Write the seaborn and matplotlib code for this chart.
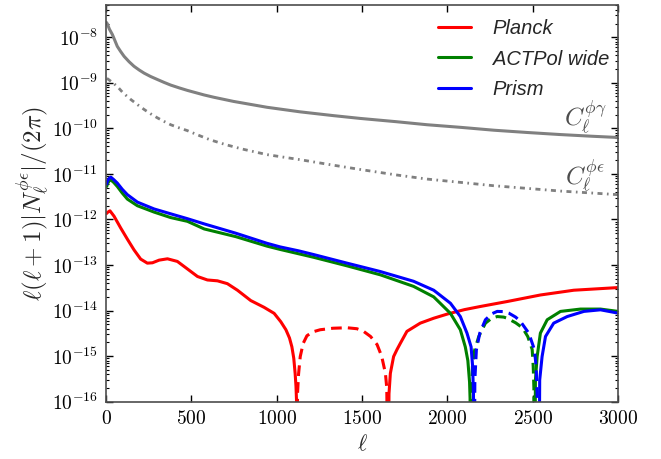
import numpy as np
import pandas as pd
import matplotlib
matplotlib.use("Agg")
import matplotlib.pyplot as plt
import matplotlib.ticker as mticker
from matplotlib.font_manager import FontProperties
import seaborn as sns

# ---------------- data ----------------
# C_ell^{phi gamma} (solid gray)
cpg_ell = [3, 8, 20, 37, 50, 66, 85, 106, 135, 164, 195, 223, 260, 301, 340, 379, 430, 477, 575,
           633, 747, 943, 1138, 1333, 1490, 1700, 1881, 2080, 2272, 2470, 2663, 2850, 3000]
cpg_val = [2.1e-8, 1.95e-8, 1.5e-8, 1.15e-8, 8.8e-9, 6.3e-9, 4.9e-9, 3.8e-9, 2.9e-9, 2.3e-9,
           1.9e-9, 1.63e-9, 1.38e-9, 1.18e-9, 1.02e-9, 8.9e-10, 7.7e-10, 6.8e-10, 5.4e-10,
           4.8e-10, 3.9e-10, 2.9e-10, 2.3e-10, 1.9e-10, 1.65e-10, 1.4e-10, 1.2e-10, 1.05e-10,
           9.1e-11, 8.1e-11, 7.3e-11, 6.7e-11, 6.3e-11]
# C_ell^{phi epsilon} (dash-dot gray)
cpe_ell = [5, 12, 40, 66, 100, 145, 185, 223, 260, 301, 340, 379, 430, 477, 540, 610, 700, 800,
           943, 1138, 1333, 1490, 1700, 1881, 2080, 2272, 2470, 2663, 2850, 3000]
cpe_val = [1.25e-9, 1.2e-9, 1.0e-9, 8.3e-10, 6.0e-10, 4.3e-10, 3.3e-10, 2.6e-10, 2.1e-10, 1.7e-10,
           1.42e-10, 1.2e-10, 1.02e-10, 8.9e-11, 7.1e-11, 5.6e-11, 4.4e-11, 3.5e-11, 2.65e-11,
           2.05e-11, 1.55e-11, 1.25e-11, 9.5e-12, 7.7e-12, 6.5e-12, 5.5e-12, 4.8e-12, 4.2e-12,
           3.8e-12, 3.5e-12]

# Planck: positive (solid) / negative (dashed, absolute value) segments
planck_pos1_ell = [3, 8, 23, 47, 86, 125, 164, 203, 242, 272, 311, 360, 418, 477, 536, 594, 653,
                   711, 770, 848, 926, 985, 1024, 1054, 1075, 1089, 1100, 1108, 1113, 1116, 1118]
planck_pos1_val = [1.35e-12, 1.42e-12, 1.55e-12, 1.18e-12, 6.5e-13, 3.7e-13, 2.15e-13, 1.35e-13,
                   1.1e-13, 1.12e-13, 1.28e-13, 1.37e-13, 1.2e-13, 8.2e-14, 5.6e-14, 4.7e-14,
                   4.5e-14, 3.9e-14, 2.8e-14, 1.66e-14, 1.18e-14, 8.7e-15, 5.7e-15, 3.8e-15,
                   2.5e-15, 1.6e-15, 9e-16, 4.2e-16, 2.2e-16, 1.1e-16, 1e-18]
planck_neg_ell = [1119, 1122, 1128, 1138, 1155, 1177, 1210, 1255, 1330, 1412, 1470, 1509, 1550,
                  1588, 1615, 1637, 1645, 1651]
planck_neg_val = [1e-18, 1.5e-16, 4e-16, 9.8e-16, 1.9e-15, 2.8e-15, 3.4e-15, 3.8e-15, 4.1e-15,
                  4.2e-15, 4.0e-15, 3.5e-15, 2.7e-15, 1.8e-15, 1.0e-15, 4.2e-16, 2e-16, 1e-18]
planck_pos2_ell = [1653, 1658, 1666, 1685, 1705, 1724, 1763, 1841, 1920, 2000, 2100, 2193, 2350,
                   2545, 2741, 3000]
planck_pos2_val = [1e-18, 1.5e-16, 4.2e-16, 9.8e-16, 1.4e-15, 1.9e-15, 3.5e-15, 5.3e-15, 6.8e-15,
                   8.4e-15, 1.05e-14, 1.23e-14, 1.58e-14, 2.2e-14, 2.8e-14, 3.2e-14]

# ACTPol wide
act_pos1_ell = [4, 8, 18, 28, 45, 66, 95, 125, 184, 282, 379, 477, 575, 760, 943, 1020, 1216,
                1412, 1607, 1802, 1920, 2018, 2076, 2105, 2120, 2130, 2133, 2136]
act_pos1_val = [5.3e-12, 6.0e-12, 7.0e-12, 7.4e-12, 6.5e-12, 5.3e-12, 3.8e-12, 2.8e-12, 2.0e-12,
                1.45e-12, 1.1e-12, 9.1e-13, 6.2e-13, 4.2e-13, 2.6e-13, 2.2e-13, 1.48e-13, 9.6e-14,
                6.1e-14, 3.4e-14, 2.0e-14, 8.7e-15, 3.8e-15, 1.6e-15, 8e-16, 2.7e-16, 1.2e-16,
                1e-18]
act_neg_ell = [2139, 2142, 2147, 2160, 2184, 2223, 2260, 2292, 2330, 2350, 2400, 2440, 2471, 2497,
               2503, 2507, 2509]
act_neg_val = [1e-18, 2e-16, 6e-16, 1.37e-15, 2.7e-15, 5.3e-15, 6.8e-15, 7.4e-15, 7.2e-15, 6.8e-15,
               5.4e-15, 4.2e-15, 2.7e-15, 1.4e-15, 6e-16, 2e-16, 1e-18]
act_pos2_ell = [2512, 2516, 2526, 2545, 2585, 2663, 2780, 2897, 3000]
act_pos2_val = [1e-18, 3e-16, 9.8e-16, 3.2e-15, 6.3e-15, 9.6e-15, 1.08e-14, 1.08e-14, 9.6e-15]

# Prism
prism_pos1_ell = [4, 8, 18, 28, 45, 66, 95, 125, 184, 282, 379, 477, 575, 760, 943, 1020, 1128,
                  1216, 1412, 1607, 1802, 1920, 2018, 2076, 2115, 2139, 2148, 2153, 2155]
prism_pos1_val = [6.0e-12, 6.9e-12, 8.0e-12, 8.5e-12, 7.5e-12, 6.3e-12, 4.6e-12, 3.5e-12, 2.4e-12,
                  1.7e-12, 1.33e-12, 1.04e-12, 8.0e-13, 5.0e-13, 3.0e-13, 2.5e-13, 2.05e-13,
                  1.7e-13, 1.1e-13, 7.2e-14, 4.4e-14, 2.8e-14, 1.45e-14, 7.4e-15, 3.2e-15, 1.6e-15,
                  6e-16, 1.5e-16, 1e-18]
prism_neg_ell = [2158, 2161, 2170, 2190, 2223, 2260, 2292, 2330, 2360, 2400, 2428, 2477, 2510,
                 2520, 2526, 2533]
prism_neg_val = [1e-18, 3e-16, 1.37e-15, 3.2e-15, 6.3e-15, 8.5e-15, 9.6e-15, 9.5e-15, 8.8e-15,
                 7.2e-15, 5.8e-15, 3.2e-15, 1.4e-15, 6e-16, 1.5e-16, 1e-18]
prism_pos2_ell = [2537, 2541, 2555, 2575, 2623, 2702, 2800, 2897, 3000]
prism_pos2_val = [1e-18, 3e-16, 9.8e-16, 2.7e-15, 5.3e-15, 7.4e-15, 9.6e-15, 1.04e-14, 8.8e-15]

labels = ["Planck", "ACTPol wide", "Prism"]
x_ticks = [0, 500, 1000, 1500, 2000, 2500, 3000]

# ---------------- style ----------------
sns.set_style("ticks")
plt.rcParams.update({
    "mathtext.fontset": "cm",
    "font.family": ["DejaVu Serif"],
    "xtick.direction": "in",
    "ytick.direction": "in",
    "xtick.top": True,
    "ytick.right": True,
    "axes.edgecolor": "0.3",
    "axes.linewidth": 1.2,
    "xtick.color": "black",
    "ytick.color": "black",
})

fig = plt.figure(figsize=(6.61, 4.59), dpi=100)
ax = fig.add_axes([0.1604, 0.1248, 0.7746, 0.8635])

gray = "#808080"
sns.lineplot(x=cpg_ell, y=cpg_val, ax=ax, color=gray, lw=2.2, sort=False, estimator=None)
sns.lineplot(x=cpe_ell, y=cpe_val, ax=ax, color=gray, lw=2.0, sort=False, estimator=None,
             linestyle=(0, (1.8, 1.6, 0.6, 1.6)))

series = [
    ("red", labels[0], planck_pos1_ell, planck_pos1_val, planck_neg_ell, planck_neg_val,
     planck_pos2_ell, planck_pos2_val),
    ("green", labels[1], act_pos1_ell, act_pos1_val, act_neg_ell, act_neg_val,
     act_pos2_ell, act_pos2_val),
    ("blue", labels[2], prism_pos1_ell, prism_pos1_val, prism_neg_ell, prism_neg_val,
     prism_pos2_ell, prism_pos2_val),
]
for color, lab, e1, v1, en, vn, e2, v2 in series:
    sns.lineplot(x=e1, y=v1, ax=ax, color=color, lw=2.2, sort=False, estimator=None, label=lab)
    sns.lineplot(x=en, y=vn, ax=ax, color=color, lw=2.2, sort=False, estimator=None,
                 linestyle=(0, (3.5, 2.0)))
    sns.lineplot(x=e2, y=v2, ax=ax, color=color, lw=2.2, sort=False, estimator=None)

ax.set_yscale("log")
ax.set_xlim(0, 3000)
ax.set_ylim(1e-16, 5e-8)
ax.set_xticks(x_ticks)
ax.xaxis.set_major_formatter(mticker.FuncFormatter(lambda v, p: r"$%d$" % int(round(v))))
ax.yaxis.set_major_locator(mticker.LogLocator(base=10, numticks=20))
ax.yaxis.set_minor_locator(mticker.LogLocator(base=10, subs=np.arange(2, 10) * 1.0, numticks=20))
ax.yaxis.set_major_formatter(mticker.FuncFormatter(lambda v, p: r"$10^{%d}$" % int(round(np.log10(v)))))
ax.yaxis.set_minor_formatter(mticker.NullFormatter())
ax.tick_params(axis="both", which="major", length=5, width=1.0, labelsize=14, pad=6)
ax.tick_params(axis="both", which="minor", length=2.5, width=0.8)

ax.set_xlabel(r"$\ell$", fontsize=16, labelpad=4)
ax.set_ylabel(r"$\ell(\ell+1)|N_\ell^{\phi\epsilon}|/(2\pi)$", fontsize=18, labelpad=0)

ax.text(2809, 10 ** -9.78, r"$C_\ell^{\phi\gamma}$", color="0.3", fontsize=18, ha="center", va="center")
ax.text(2809, 10 ** -11.06, r"$C_\ell^{\phi\epsilon}$", color="0.3", fontsize=18, ha="center", va="center")

handles, labs = ax.get_legend_handles_labels()
legfont = FontProperties(family="Liberation Sans", style="italic", size=14.5)
leg = ax.legend(handles, labs, loc="upper right", bbox_to_anchor=(1.01, 1.0), frameon=False,
                prop=legfont, handlelength=1.6, handletextpad=1.1, labelspacing=0.55,
                borderaxespad=0.3)

fig.savefig("out.png", dpi=100)
